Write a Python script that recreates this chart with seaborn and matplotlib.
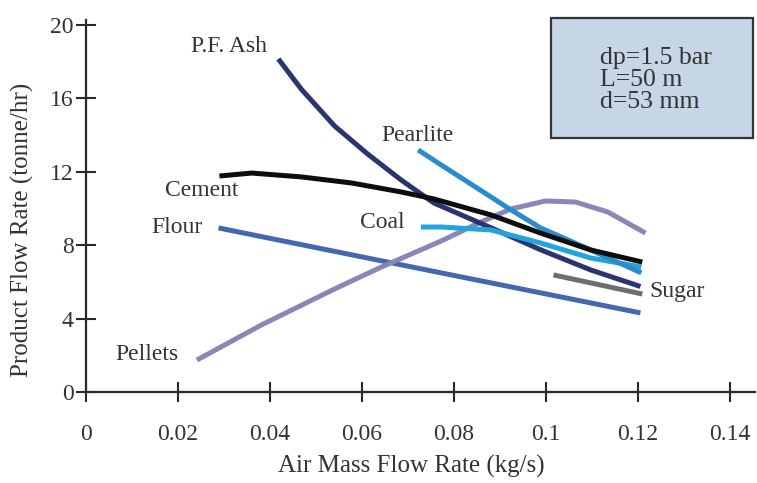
import pandas as pd
import seaborn as sns
import matplotlib.pyplot as plt
from matplotlib.patches import Rectangle

# values
ash_x = [0.0418, 0.0468, 0.054, 0.0613, 0.0685, 0.0756, 0.088, 0.0988, 0.1097, 0.1205]
ash_y = [18.15, 16.5, 14.5, 12.95, 11.55, 10.3, 8.95, 7.75, 6.65, 5.75]

cement_x = [0.029, 0.036, 0.0468, 0.0577, 0.0685, 0.0756, 0.088, 0.0988, 0.1097, 0.1209]
cement_y = [11.77, 11.93, 11.72, 11.39, 10.9, 10.52, 9.65, 8.66, 7.74, 7.08]

pearlite_x = [0.0722, 0.0772, 0.088, 0.0917, 0.0988, 0.1097, 0.1207]
pearlite_y = [13.19, 12.37, 10.63, 10.03, 8.94, 7.74, 6.49]

coal_x = [0.0728, 0.0772, 0.088, 0.0988, 0.1097, 0.1207]
coal_y = [8.99, 8.99, 8.83, 8.12, 7.3, 6.81]

pellets_x = [0.0241, 0.0381, 0.054, 0.0642, 0.0772, 0.0858, 0.0923, 0.0999, 0.1064, 0.1134, 0.1216]
pellets_y = [1.74, 3.65, 5.61, 6.81, 8.23, 9.26, 9.97, 10.41, 10.35, 9.81, 8.66]

flour_x = [0.0288, 0.0772, 0.1205]
flour_y = [8.94, 6.49, 4.31]

sugar_x = [0.1016, 0.1209]
sugar_y = [6.38, 5.34]

x_ticks = [0, 0.02, 0.04, 0.06, 0.08, 0.1, 0.12, 0.14]
x_ticklabels = ["0", "0.02", "0.04", "0.06", "0.08", "0.1", "0.12", "0.14"]
y_ticks = [0, 4, 8, 12, 16, 20]

series = [
    ("Flour", flour_x, flour_y, "#4467b2"),
    ("Pellets", pellets_x, pellets_y, "#8a87b8"),
    ("Sugar", sugar_x, sugar_y, "#6e6e6e"),
    ("P.F. Ash", ash_x, ash_y, "#28356f"),
    ("Coal", coal_x, coal_y, "#22a4de"),
    ("Pearlite", pearlite_x, pearlite_y, "#2a8ccd"),
    ("Cement", cement_x, cement_y, "#0d0d0d"),
]

sns.set_style("ticks")
plt.rcParams['font.family'] = ['Liberation Serif', 'DejaVu Serif']
txt = "#333333"

fig = plt.figure(figsize=(7.57, 4.83), dpi=100)
ax = fig.add_axes([86 / 757, 91 / 483, 669 / 757, 372 / 483])

for name, xs, ys, col in series:
    df = pd.DataFrame({"x": xs, "y": ys})
    sns.lineplot(data=df, x="x", y="y", color=col, lw=3.6, sort=False,
                 estimator=None, ax=ax, solid_capstyle="butt")

# curve labels
labels = [
    ("P.F. Ash", 0.0311, 18.8, "center"),
    ("Cement", 0.0252, 11.0, "center"),
    ("Flour", 0.0198, 8.94, "center"),
    ("Pellets", 0.0133, 2.07, "center"),
    ("Coal", 0.0643, 9.26, "center"),
    ("Pearlite", 0.0720, 14.0, "center"),
    ("Sugar", 0.1225, 5.45, "left"),
]
for s, lx, ly, ha in labels:
    ax.text(lx, ly, s, ha=ha, va="center", fontsize=17, color=txt)

ax.set_xlim(0, 0.1454)
ax.set_ylim(0, 20.27)
ax.set_xticks(x_ticks)
ax.set_xticklabels(x_ticklabels)
ax.set_yticks(y_ticks)
ax.set_xlabel("")
ax.set_ylabel("")
for side in ["top", "right"]:
    ax.spines[side].set_visible(False)
for side in ["left", "bottom"]:
    ax.spines[side].set_color("#2a2a2a")
    ax.spines[side].set_linewidth(1.6)
ax.tick_params(axis="both", direction="inout", length=14, width=1.5,
               color="#2a2a2a", labelsize=17, labelcolor=txt,
               bottom=True, left=True)
ax.tick_params(axis="x", pad=16)
ax.tick_params(axis="y", pad=2)

fig.text(411 / 757, 1 - 466 / 483, "Air Mass Flow Rate (kg/s)", ha="center",
         va="center", fontsize=18, color=txt)
fig.text(22 / 757, 1 - 230 / 483, "Product Flow Rate (tonne/hr)", ha="center",
         va="center", rotation=90, fontsize=18, color=txt)

# parameter box
fig.patches.append(Rectangle((551 / 757, 1 - 138 / 483), 202 / 757, 120 / 483,
                             transform=fig.transFigure, facecolor="#c6d6e6",
                             edgecolor="#333333", lw=1.6, zorder=5))
fig.text(600 / 757, 1 - 80 / 483, "dp=1.5 bar\nL=50 m\nd=53 mm", ha="left",
         va="center", fontsize=18.5, color=txt, linespacing=0.98, zorder=6)

fig.savefig("out.png", dpi=100)
